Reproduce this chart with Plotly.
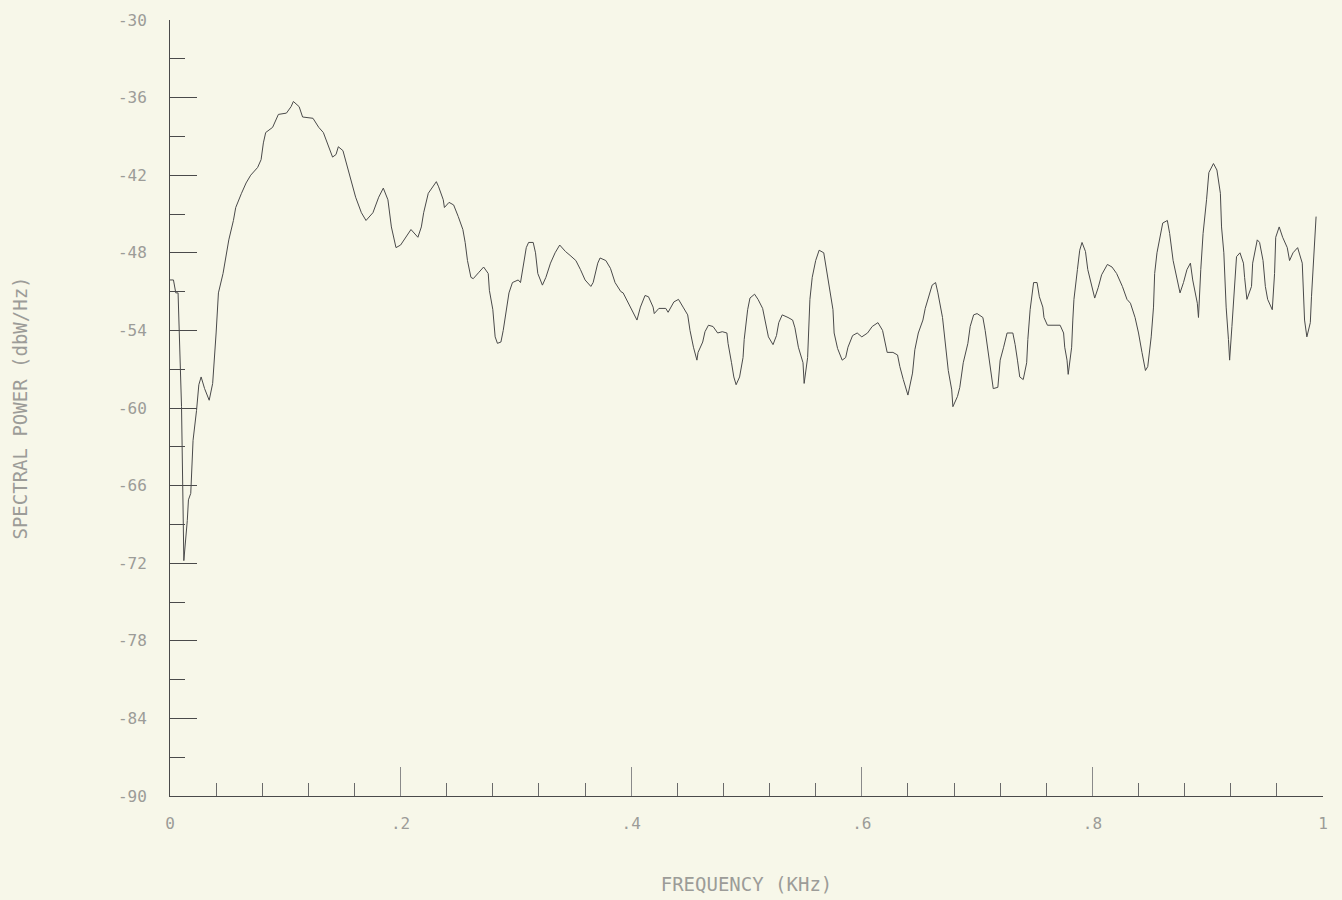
import plotly.graph_objects as go

# ---- data (frequency in kHz, spectral power in dBW/Hz) ----
freq_a = [0.000, 0.003, 0.005, 0.007, 0.010, 0.011, 0.012, 0.015, 0.016, 0.018, 0.020, 0.023, 0.025, 0.027, 0.030,
          0.034, 0.037, 0.040, 0.042, 0.046, 0.049, 0.051, 0.055, 0.057, 0.062, 0.066, 0.070, 0.076, 0.079, 0.081,
          0.083, 0.089, 0.094, 0.101, 0.105, 0.107, 0.112, 0.115, 0.124, 0.129, 0.133, 0.138, 0.141, 0.144, 0.146,
          0.150, 0.154, 0.157, 0.161, 0.166, 0.170, 0.176, 0.181, 0.185, 0.189, 0.192, 0.196]
power_a = [-50.1, -50.1, -51.1, -51.1, -59.9, -67.1, -71.8, -68.7, -67.1, -66.6, -62.5, -60.2, -58.2, -57.6, -58.5,
           -59.4, -58.1, -54.2, -51.1, -49.6, -48.0, -47.0, -45.5, -44.5, -43.4, -42.6, -42.0, -41.4, -40.8, -39.5,
           -38.7, -38.3, -37.3, -37.2, -36.7, -36.3, -36.7, -37.5, -37.6, -38.3, -38.7, -39.8, -40.6, -40.4, -39.8,
           -40.1, -41.4, -42.4, -43.7, -44.9, -45.5, -44.9, -43.7, -43.0, -43.9, -46.0, -47.6]

freq_b = [0.200, 0.206, 0.209, 0.215, 0.218, 0.220, 0.224, 0.231, 0.233, 0.237, 0.238, 0.242, 0.246, 0.250, 0.254,
          0.256, 0.258, 0.261, 0.263, 0.268, 0.272, 0.276, 0.277, 0.280, 0.282, 0.284, 0.287, 0.289, 0.292, 0.294,
          0.297, 0.302, 0.304, 0.307, 0.309, 0.311, 0.315, 0.317, 0.319, 0.323, 0.326, 0.330, 0.334, 0.338, 0.343,
          0.347, 0.352, 0.356, 0.360, 0.365, 0.367, 0.371, 0.373, 0.378, 0.382, 0.386, 0.391, 0.393, 0.397, 0.401,
          0.405, 0.408, 0.412, 0.415]
power_b = [-47.4, -46.6, -46.2, -46.8, -46.0, -44.9, -43.4, -42.5, -42.9, -43.9, -44.5, -44.1, -44.3, -45.2, -46.2,
           -47.2, -48.6, -49.9, -50.0, -49.5, -49.1, -49.6, -50.9, -52.4, -54.5, -55.0, -54.9, -54.0, -52.4, -51.1,
           -50.3, -50.1, -50.3, -48.8, -47.6, -47.2, -47.2, -48.0, -49.6, -50.5, -49.9, -48.8, -48.0, -47.4, -47.9,
           -48.2, -48.6, -49.3, -50.1, -50.6, -50.3, -48.8, -48.4, -48.6, -49.2, -50.3, -51.0, -51.1, -51.8, -52.6,
           -53.2, -52.2, -51.3, -51.4]

freq_c = [0.419, 0.420, 0.424, 0.430, 0.432, 0.437, 0.441, 0.445, 0.449, 0.451, 0.454, 0.457, 0.458, 0.462, 0.464,
          0.467, 0.471, 0.475, 0.479, 0.483, 0.484, 0.487, 0.489, 0.491, 0.494, 0.497, 0.498, 0.501, 0.503, 0.507,
          0.510, 0.514, 0.516, 0.519, 0.523, 0.526, 0.528, 0.531, 0.536, 0.540, 0.542, 0.545, 0.549, 0.550, 0.553,
          0.554, 0.555, 0.557, 0.560, 0.563, 0.567, 0.569, 0.571, 0.575, 0.576, 0.579, 0.583, 0.586, 0.588, 0.592,
          0.596, 0.600, 0.605, 0.609, 0.614, 0.618]
power_c = [-52.2, -52.7, -52.3, -52.3, -52.6, -51.8, -51.6, -52.2, -52.8, -54.0, -55.3, -56.3, -55.7, -54.9, -54.1,
           -53.6, -53.7, -54.2, -54.1, -54.2, -55.0, -56.5, -57.6, -58.2, -57.6, -56.1, -54.7, -52.4, -51.5, -51.2,
           -51.6, -52.3, -53.2, -54.5, -55.1, -54.4, -53.4, -52.8, -53.0, -53.2, -53.8, -55.3, -56.5, -58.1, -56.1,
           -53.7, -51.6, -49.9, -48.6, -47.8, -48.0, -49.1, -50.3, -52.4, -54.2, -55.4, -56.3, -56.1, -55.3, -54.4,
           -54.2, -54.5, -54.2, -53.7, -53.4, -54.0]

freq_d = [0.622, 0.627, 0.631, 0.633, 0.636, 0.640, 0.644, 0.646, 0.649, 0.653, 0.655, 0.658, 0.661, 0.664, 0.666,
          0.670, 0.672, 0.675, 0.678, 0.679, 0.683, 0.685, 0.688, 0.692, 0.694, 0.697, 0.700, 0.705, 0.707, 0.709,
          0.711, 0.714, 0.718, 0.720, 0.723, 0.726, 0.731, 0.733, 0.735, 0.737, 0.740, 0.743, 0.744, 0.746, 0.749,
          0.752, 0.754, 0.757, 0.758, 0.761, 0.772, 0.775, 0.776, 0.778, 0.779, 0.782, 0.783, 0.784, 0.787, 0.789,
          0.791, 0.794, 0.796, 0.800, 0.802, 0.805, 0.808, 0.813, 0.817, 0.821, 0.826, 0.830]
power_d = [-55.7, -55.7, -55.9, -56.8, -57.8, -59.0, -57.3, -55.5, -54.2, -53.2, -52.3, -51.3, -50.5, -50.3, -51.1,
           -53.0, -54.7, -57.1, -58.6, -59.9, -59.1, -58.4, -56.5, -55.0, -53.7, -52.8, -52.7, -53.0, -54.0, -55.3,
           -56.8, -58.5, -58.4, -56.3, -55.3, -54.2, -54.2, -55.1, -56.3, -57.6, -57.8, -56.5, -54.7, -52.4, -50.3,
           -50.3, -51.4, -52.2, -53.0, -53.6, -53.6, -54.2, -55.3, -56.3, -57.4, -55.3, -53.2, -51.6, -49.3, -47.8,
           -47.2, -47.9, -49.3, -50.9, -51.5, -50.7, -49.7, -48.9, -49.1, -49.6, -50.6, -51.6]

freq_e = [0.833, 0.837, 0.840, 0.843, 0.846, 0.848, 0.851, 0.853, 0.854, 0.856, 0.859, 0.861, 0.865, 0.867, 0.870,
          0.873, 0.876, 0.879, 0.882, 0.885, 0.887, 0.891, 0.892, 0.894, 0.896, 0.899, 0.901, 0.905, 0.908, 0.911,
          0.912, 0.914, 0.916, 0.918, 0.919, 0.921, 0.924, 0.925, 0.928, 0.931, 0.932, 0.934, 0.938, 0.939, 0.943,
          0.945, 0.948, 0.950, 0.952, 0.956, 0.958, 0.959, 0.962, 0.965, 0.969, 0.971, 0.974, 0.978, 0.982, 0.983,
          0.984, 0.986, 0.989, 0.990, 0.992, 0.994]
power_e = [-51.9, -53.0, -54.2, -55.7, -57.1, -56.8, -54.5, -52.2, -49.6, -48.0, -46.5, -45.7, -45.5, -46.5, -48.6,
           -49.9, -51.1, -50.3, -49.3, -48.8, -50.1, -51.9, -53.0, -49.3, -46.5, -43.9, -41.8, -41.1, -41.6, -43.4,
           -46.0, -48.0, -52.2, -54.7, -56.3, -53.7, -49.9, -48.3, -48.0, -48.8, -49.9, -51.6, -50.6, -48.8, -47.0,
           -47.2, -48.6, -50.6, -51.6, -52.4, -49.6, -46.8, -46.0, -46.8, -47.6, -48.6, -48.0, -47.6, -48.8, -51.1,
           -53.2, -54.5, -53.4, -51.4, -48.0, -45.2]

x_tick_vals = [0, 0.2, 0.4, 0.6, 0.8, 1.0]
x_tick_text = ["0", ".2", ".4", ".6", ".8", "1"]
y_tick_vals = [-90, -84, -78, -72, -66, -60, -54, -48, -42, -36, -30]
y_tick_text = ["-90", "-84", "-78", "-72", "-66", "-60", "-54", "-48", "-42", "-36", "-30"]

freq = freq_a + freq_b + freq_c + freq_d + freq_e
power = power_a + power_b + power_c + power_d + power_e

BG = "#f7f7e9"
TXT = "#9c9c98"
MONO = "DejaVu Sans Mono"

fig = go.Figure(
    go.Scatter(
        x=freq, y=power, mode="lines",
        line=dict(color="#4a4a4a", width=1),
        hoverinfo="x+y", showlegend=False,
    )
)

fig.update_layout(
    width=1342, height=900,
    margin=dict(l=170, r=19, t=20, b=104, autoexpand=False),
    paper_bgcolor=BG, plot_bgcolor=BG,
    showlegend=False,
    xaxis=dict(
        range=[0, 1], showgrid=False, zeroline=False,
        showline=True, linecolor="#4a4a4a", linewidth=1,
        ticks="inside", ticklen=29, tickwidth=1, tickcolor="#8a8a8a",
        tickvals=x_tick_vals, ticktext=x_tick_text,
        tickfont=dict(family=MONO, size=16, color=TXT),
        ticklabelstandoff=13,
        minor=dict(ticks="inside", tick0=0, dtick=0.04, ticklen=13, tickwidth=1,
                   tickcolor="#6a6a6a", showgrid=False),
        title=dict(text="FREQUENCY (KHz)", font=dict(family=MONO, size=19, color=TXT), standoff=45),
        automargin=False,
    ),
    yaxis=dict(
        range=[-90, -30], showgrid=False, zeroline=False,
        showline=True, linecolor="#4a4a4a", linewidth=1,
        ticks="inside", ticklen=27, tickwidth=1, tickcolor="#4a4a4a",
        tickvals=y_tick_vals, ticktext=y_tick_text,
        tickfont=dict(family=MONO, size=16, color=TXT),
        ticklabelstandoff=19,
        minor=dict(ticks="inside", tick0=-90, dtick=3, ticklen=15, tickwidth=1,
                   tickcolor="#4a4a4a", showgrid=False),
        title=dict(text="SPECTRAL POWER (dbW/Hz)", font=dict(family=MONO, size=19, color=TXT), standoff=85),
        automargin=False,
    ),
)

page_js = (
    "document.body.style.margin='0';"
    "document.body.style.padding='0';"
    "document.body.style.background='" + BG + "';"
)

fig.write_html("out.html", post_script=page_js, config={"displayModeBar": False})
